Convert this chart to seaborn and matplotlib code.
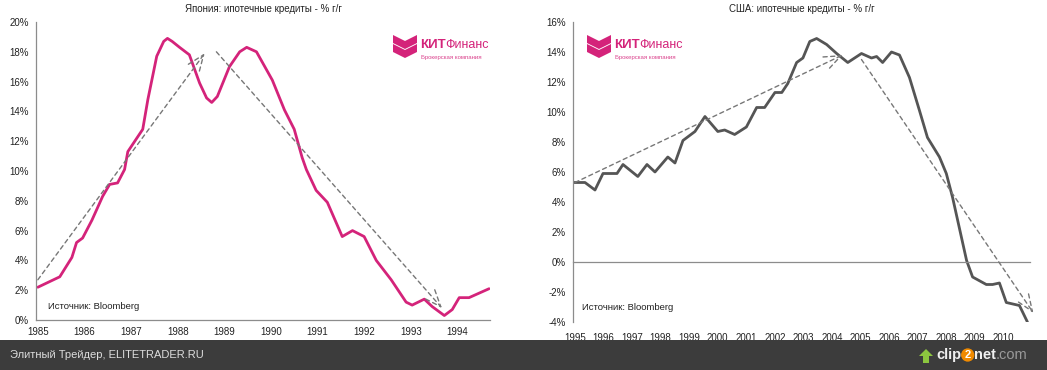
import matplotlib
matplotlib.use('Agg')
import matplotlib.pyplot as plt
from matplotlib.patches import Polygon, Rectangle
from matplotlib.text import Annotation
import seaborn as sns
import pandas as pd

# ----- Data -----
jp_years = [1985.0, 1985.47, 1985.73, 1985.83, 1985.96, 1986.16, 1986.39, 1986.54, 1986.71,
            1986.86, 1986.93, 1987.25, 1987.36, 1987.55, 1987.7, 1987.78, 1987.88, 1988.04,
            1988.25, 1988.47, 1988.62, 1988.73, 1988.85, 1989.11, 1989.33, 1989.48, 1989.69,
            1990.03, 1990.29, 1990.5, 1990.67, 1990.76, 1990.97, 1991.21, 1991.53, 1991.75,
            1992.0, 1992.26, 1992.58, 1992.9, 1993.03, 1993.29, 1993.46, 1993.72, 1993.89,
            1994.04, 1994.25, 1994.68]
jp_values = [2.2, 2.9, 4.2, 5.2, 5.5, 6.7, 8.3, 9.1, 9.2,
             10.1, 11.3, 12.8, 14.8, 17.7, 18.7, 18.9, 18.7, 18.3,
             17.8, 15.9, 14.9, 14.6, 15.0, 17.0, 18.0, 18.3, 18.0,
             16.1, 14.1, 12.8, 10.9, 10.1, 8.7, 7.9, 5.6, 6.0,
             5.6, 4.0, 2.7, 1.2, 1.0, 1.4, 0.9, 0.3, 0.7,
             1.5, 1.5, 2.1]

us_years = [1994.93, 1995.35, 1995.7, 1995.98, 1996.12, 1996.47, 1996.68, 1997.2, 1997.52,
            1997.8, 1998.25, 1998.5, 1998.78, 1999.2, 1999.55, 2000.0, 2000.24, 2000.59,
            2001.0, 2001.36, 2001.64, 2002.0, 2002.24, 2002.45, 2002.76, 2002.98, 2003.22,
            2003.46, 2003.81, 2004.16, 2004.55, 2005.03, 2005.38, 2005.56, 2005.77, 2006.08,
            2006.36, 2006.71, 2007.06, 2007.34, 2007.76, 2008.0, 2008.22, 2008.71, 2008.92,
            2009.4, 2009.62, 2009.86, 2010.1, 2010.56, 2010.84]
us_values = [5.3, 5.3, 4.8, 5.9, 5.9, 5.9, 6.5, 5.7, 6.5,
             6.0, 7.0, 6.6, 8.1, 8.7, 9.7, 8.7, 8.8, 8.5,
             9.0, 10.3, 10.3, 11.3, 11.3, 11.9, 13.3, 13.6, 14.7,
             14.9, 14.5, 13.9, 13.3, 13.9, 13.6, 13.7, 13.3, 14.0,
             13.8, 12.3, 10.1, 8.3, 7.0, 5.9, 4.3, 0.1, -1.0,
             -1.5, -1.5, -1.4, -2.7, -2.9, -4.0]

# trend arrows: (start year, start %, end year, end %)
jp_trends = [(1985.0, 2.7, 1988.58, 17.9), (1988.83, 18.0, 1993.67, 0.8)]
us_trends = [(1995.0, 5.3, 2004.37, 13.8), (2005.03, 13.5, 2011.05, -3.4)]

jp_ticks = list(range(1985, 1995))
us_ticks = list(range(1995, 2011))

jp_title = 'Япония: ипотечные кредиты - % г/г'
us_title = 'США: ипотечные кредиты - % г/г'
source = 'Источник: Bloomberg'

PINK = '#d4237a'
GREY_LINE = '#555555'
AXIS = '#8c8c8c'

sns.set_theme(style='white')
plt.rcParams['font.family'] = ['Liberation Sans', 'DejaVu Sans']

fig = plt.figure(figsize=(10.47, 3.70), dpi=100)
W, H = 1047, 370


def px_axes(x0, y0, x1, y1):
    return fig.add_axes([x0 / W, 1 - y1 / H, (x1 - x0) / W, (y1 - y0) / H])


def style_axes(ax):
    for s in ['top', 'right']:
        ax.spines[s].set_visible(False)
    for s in ['left', 'bottom']:
        ax.spines[s].set_color(AXIS)
        ax.spines[s].set_linewidth(0.9)
    ax.tick_params(axis='both', labelsize=7, colors='#222222', length=3,
                   width=0.8, color=AXIS, pad=2, direction='out')
    ax.set_xlabel('')
    ax.set_ylabel('')


def trend_arrows(ax, trends):
    for x0, y0, x1, y1 in trends:
        ax.annotate('', xy=(x1, y1), xytext=(x0, y0), annotation_clip=False,
                    arrowprops=dict(arrowstyle='->,head_length=1.0,head_width=0.4',
                                    color='#777777', lw=1.0, ls=(0, (3, 2.5)),
                                    shrinkA=0, shrinkB=0))


def logo(x, y):
    # chevron icon in pixel coords (top-left at x, y)
    for dy in (0, 9):
        pts = [(x, y + dy), (x + 12, y + dy + 6), (x + 24, y + dy),
               (x + 24, y + dy + 8), (x + 12, y + dy + 14), (x, y + dy + 8)]
        fig.patches.append(Polygon([(px / W, 1 - py / H) for px, py in pts],
                                   closed=True, facecolor=PINK, edgecolor='none',
                                   transform=fig.transFigure, figure=fig))
    t = fig.text((x + 27) / W, 1 - (y + 10) / H, 'КИТ', color=PINK, fontsize=9.5,
                 fontweight='bold', va='center', ha='left')
    fig.add_artist(Annotation('Финанс', xy=(1, 0.5), xycoords=t, xytext=(-0.3, 0),
                              textcoords='offset points', color=PINK, fontsize=9,
                              va='center', ha='left'))
    fig.text((x + 28) / W, 1 - (y + 22) / H, 'Брокерская компания', color=PINK,
             fontsize=4.3, va='center', ha='left', alpha=0.85)


# ----- Japan -----
ax1 = px_axes(36, 22, 490, 320)
df_jp = pd.DataFrame({'year': jp_years, 'value': jp_values})
sns.lineplot(data=df_jp, x='year', y='value', ax=ax1, color=PINK, lw=2.0,
             solid_joinstyle='round')
trend_arrows(ax1, jp_trends)
ax1.set_xlim(1984.96, 1994.7)
ax1.set_ylim(0, 20)
ax1.set_yticks(range(0, 21, 2))
ax1.set_yticklabels([f'{v}%' for v in range(0, 21, 2)])
ax1.set_xticks(jp_ticks)
ax1.set_xticklabels([str(y) for y in jp_ticks])
style_axes(ax1)
ax1.set_title(jp_title, fontsize=7, pad=7, color='#222222')
ax1.text(0.027, 0.045, source, transform=ax1.transAxes, fontsize=6.8,
         color='#222222', va='center')

# ----- USA -----
ax2 = px_axes(573, 22, 1030, 322)
df_us = pd.DataFrame({'year': us_years, 'value': us_values})
sns.lineplot(data=df_us, x='year', y='value', ax=ax2, color=GREY_LINE, lw=2.0,
             solid_joinstyle='round')
trend_arrows(ax2, us_trends)
ax2.set_xlim(1994.93, 2010.93)
ax2.set_ylim(-4, 16)
ax2.set_yticks(range(-4, 17, 2))
ax2.set_yticklabels([f'{v}%' for v in range(-4, 17, 2)])
style_axes(ax2)
# axis line with tick marks at 0%, year labels at the bottom
ax2.spines['bottom'].set_position(('data', 0))
ax2.set_xticks(us_ticks)
ax2.set_xticklabels([])
ax2.tick_params(axis='x', length=3)
sec = ax2.secondary_xaxis(0.0)
sec.set_xticks(us_ticks)
sec.set_xticklabels([str(y) for y in us_ticks])
sec.tick_params(length=0, labelsize=7, colors='#222222', pad=8)
sec.spines['bottom'].set_visible(False)
ax2.set_title(us_title, fontsize=7, pad=7, color='#222222')
ax2.text(0.02, 0.047, source, transform=ax2.transAxes, fontsize=6.8,
         color='#222222', va='center')

# ----- Logos -----
logo(393, 35)
logo(587, 35)

# ----- Bottom bar -----
fig.patches.append(Rectangle((0, 0), 1, 30 / H, transform=fig.transFigure,
                             facecolor='#3c3c3c', edgecolor='none', zorder=10,
                             figure=fig))
fig.text(10 / W, 15 / H, 'Элитный Трейдер, ELITETRADER.RU', color='#dddddd',
         fontsize=8, va='center', ha='left', zorder=11)
# small upload arrow icon
arrow_pts = [(926, 349), (933, 356), (929, 356), (929, 363), (923, 363), (923, 356), (919, 356)]
fig.patches.append(Polygon([(px / W, 1 - py / H) for px, py in arrow_pts], closed=True,
                           facecolor='#8cc63f', edgecolor='none', zorder=11,
                           transform=fig.transFigure, figure=fig))
c = fig.text(936 / W, 15 / H, 'clip', color='#f0f0f0', fontsize=10.5, va='center',
             ha='left', zorder=11, fontweight='bold')
two = Annotation('2', xy=(1, 0.5), xycoords=c, xytext=(2.5, 0),
                 textcoords='offset points', color='#ffffff', fontsize=8,
                 va='center', ha='left', fontweight='bold', zorder=11,
                 bbox=dict(boxstyle='circle,pad=0.15', fc='#f08a00', ec='none'))
fig.add_artist(two)
net = Annotation('net', xy=(1, 0.5), xycoords=two, xytext=(2, 0),
                 textcoords='offset points', color='#f0f0f0', fontsize=10.5,
                 va='center', ha='left', fontweight='bold', zorder=11)
fig.add_artist(net)
fig.add_artist(Annotation('.com', xy=(1, 0.5), xycoords=net, xytext=(0, 0),
                          textcoords='offset points', color='#9a9a9a', fontsize=10.5,
                          va='center', ha='left', zorder=11))

fig.savefig('out.png', dpi=100)
